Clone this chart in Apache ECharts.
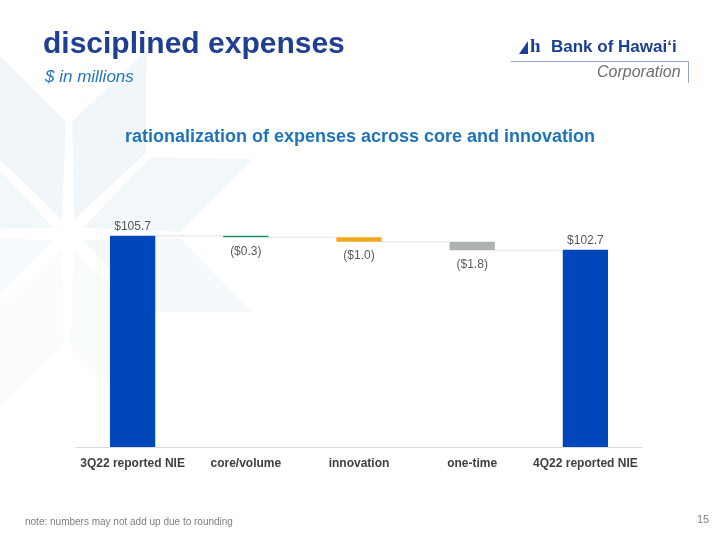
<!DOCTYPE html>
<html>
<head>
<meta charset="utf-8">
<script src="https://cdn.jsdelivr.net/npm/echarts@6/dist/echarts.min.js"></script>
<style>
html,body{margin:0;padding:0;background:#fff;}
#c{width:720px;height:540px;}
</style>
</head>
<body>
<div id="c"></div>
<script>
// ---- data ----
var categories = ['3Q22 reported NIE', 'core/volume', 'innovation', 'one-time', '4Q22 reported NIE'];
var startTotal = 105.7;
var changes = [-0.3, -1.0, -1.8];
var endTotal = 102.7;
var barColors = ['#0047BB', '#1E8C6E', '#F2A81D', '#AEB2B1', '#0047BB'];

// ---- build waterfall from data ----
var baseData = [], valueData = [], levels = [], labels = [];
var level = startTotal;
baseData.push(0); valueData.push(startTotal); levels.push(startTotal);
labels.push({ text: '$' + startTotal.toFixed(1), pos: 'top' });
changes.forEach(function (d) {
  var next = +(level + d).toFixed(1);
  baseData.push(Math.min(level, next));
  valueData.push(Math.abs(d));
  levels.push(next);
  labels.push({ text: '($' + Math.abs(d).toFixed(1) + ')', pos: 'bottom' });
  level = next;
});
baseData.push(0); valueData.push(endTotal);
labels.push({ text: '$' + endTotal.toFixed(1), pos: 'top' });

var valueItems = valueData.map(function (v, i) {
  return {
    value: v,
    itemStyle: { color: barColors[i] },
    label: {
      show: true, position: labels[i].pos, distance: labels[i].pos === 'top' ? 3 : 8,
      formatter: labels[i].text, color: '#595959', fontSize: 12,
      fontFamily: 'Liberation Sans, Arial, sans-serif'
    }
  };
});
var connectorData = levels.map(function (v, i) { return [i, v]; });

// ---- background star decoration ----
function kite(cx, cy, angDeg, r0, r1, rm, w) {
  var a = angDeg * Math.PI / 180, dx = Math.cos(a), dy = Math.sin(a), px = -dy, py = dx;
  return [[cx + dx * r0, cy + dy * r0], [cx + dx * rm + px * w, cy + dy * rm + py * w],
          [cx + dx * r1, cy + dy * r1], [cx + dx * rm - px * w, cy + dy * rm - py * w]];
}
var bg = [];
var C = [68, 234];
var kites = [
  [-112, 0.45], [-67, 0.45], [-22, 0.4], [23, 0.3], [68, 0.18], [113, 0.15], [158, 0.25], [-157, 0.4]
];
kites.forEach(function (k) {
  bg.push({
    type: 'polygon', silent: true, z: -10,
    shape: { points: kite(C[0], C[1], k[0], 16, 200, 105, 40) },
    style: { fill: 'rgba(222,236,242,' + k[1] + ')' }
  });
});

var chart = echarts.init(document.getElementById('c'), null, { renderer: 'canvas' });
chart.setOption({
  backgroundColor: '#ffffff',
  animation: false,
  textStyle: { fontFamily: 'Liberation Sans, Arial, sans-serif' },
  grid: { left: 76, right: 78, top: 216, bottom: 93, containLabel: false },
  xAxis: {
    type: 'category', data: categories,
    axisLine: { lineStyle: { color: '#D9D9D9', width: 1 } },
    axisTick: { show: false },
    axisLabel: { color: '#404040', fontSize: 12, fontWeight: 'bold', margin: 11, interval: 0 }
  },
  yAxis: {
    type: 'value', min: 60, max: 110, show: false, splitLine: { show: false }
  },
  series: [
    {
      type: 'bar', stack: 'w', data: baseData, barWidth: '40%',
      itemStyle: { color: 'transparent' }, silent: true
    },
    {
      type: 'bar', stack: 'w', data: valueItems, barWidth: '40%'
    },
    {
      type: 'custom', data: connectorData.slice(0, 4), z: 1,
      renderItem: function (params, api) {
        var i = api.value(0), v = api.value(1);
        var p0 = api.coord([i, v]), p1 = api.coord([i + 1, v]);
        var half = api.size([1, 0])[0] * 0.2;
        return {
          type: 'line',
          shape: { x1: p0[0] + half, y1: p0[1], x2: p1[0] - half, y2: p1[1] },
          style: { stroke: '#C8C8C8', lineWidth: 1, lineDash: [1, 1] }
        };
      }
    }
  ],
  graphic: bg.concat([
    { type: 'text', left: 43, top: 30, style: { text: 'disciplined expenses', fill: '#203F93', font: 'bold 30px Liberation Sans, Arial, sans-serif' } },
    { type: 'text', left: 45, top: 69, style: { text: '$ in millions', fill: '#2177C3', font: 'italic 17px Liberation Sans, Arial, sans-serif' } },
    { type: 'text', left: 'center', top: 128, style: { text: 'rationalization of expenses across core and innovation', fill: '#1E74BB', font: 'bold 18px Liberation Sans, Arial, sans-serif' } },
    // logo
    { type: 'polygon', shape: { points: [[519, 54], [528, 41], [528, 54]] }, style: { fill: '#1B3F94' } },
    { type: 'text', left: 530, top: 38, style: { text: 'h', fill: '#1B3F94', font: 'bold 19px Liberation Serif, serif' } },
    { type: 'text', left: 551, top: 39, style: { text: 'Bank of Hawaiʻi', fill: '#1B3F94', font: 'bold 17px Liberation Sans, Arial, sans-serif' } },
    { type: 'line', shape: { x1: 511, y1: 61.5, x2: 689, y2: 61.5 }, style: { stroke: '#8FA5CB', lineWidth: 1 } },
    { type: 'line', shape: { x1: 688.5, y1: 61.5, x2: 688.5, y2: 83 }, style: { stroke: '#8FA5CB', lineWidth: 1 } },
    { type: 'text', left: 597, top: 65, style: { text: 'Corporation', fill: '#6D6E71', font: 'italic 16px Liberation Sans, Arial, sans-serif' } },
    // footer
    { type: 'text', left: 25, top: 517, style: { text: 'note: numbers may not add up due to rounding', fill: '#7F7F7F', font: '10px Liberation Sans, Arial, sans-serif' } },
    { type: 'text', left: 697, top: 514, style: { text: '15', fill: '#7F7F7F', font: '11px Liberation Sans, Arial, sans-serif' } }
  ])
});
</script>
</body>
</html>
